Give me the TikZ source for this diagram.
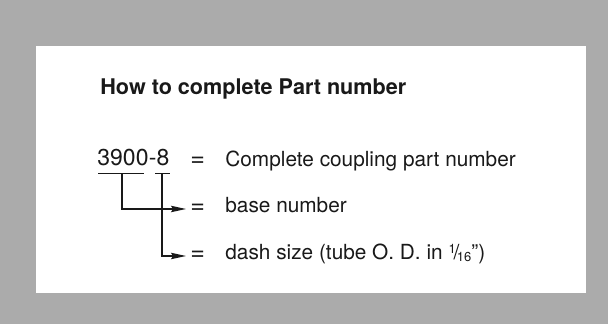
\documentclass[tikz,border=0pt]{standalone}
\usepackage{fontspec}
\setmainfont{TeX Gyre Heros}
\usetikzlibrary{arrows.meta, positioning}
\definecolor{PlateGray}{RGB}{171,171,171}
\definecolor{InkBlack}{RGB}{25,25,25}
\newcommand{\sixteenth}{\raisebox{0.6ex}{\fontsize{6.5}{7}\selectfont 1}\kern-0.1em/\kern-0.12em\raisebox{-0.15ex}{\fontsize{6.5}{7}\selectfont 16}}

\begin{document}
\begin{tikzpicture}[
  x=0.5pt, y=-0.5pt,
  title/.style={anchor=base west, inner sep=0pt, text=InkBlack, font=\fontsize{10.8}{13}\selectfont\bfseries},
  digits/.style={anchor=base west, inner sep=0pt, text=InkBlack, font=\fontsize{11.5}{14}\selectfont},
  desc/.style={anchor=base west, inner sep=0pt, text=InkBlack, font=\fontsize{10.4}{12}\selectfont},
  eqsign/.style={anchor=west, inner sep=0pt, text=InkBlack, font=\fontsize{12.5}{14}\selectfont},
  uline/.style={draw=InkBlack, line width=0.65pt},
  arrow/.style={-{Stealth[length=7.5pt, width=3.2pt, inset=1pt]}, line width=0.7pt, draw=InkBlack}
]
  \fill[PlateGray] (0,0) rectangle (608,324);
  \fill[white] (36,46) rectangle (586,293);

  \node[title] (heading) at (100,95) {How to complete Part number};

  \node[digits] (base) at (97,166) {3900};
  \node[digits] (hyphen) at ([xshift=-0.3pt]base.base east) {-};
  \node[digits] (dash) at ([xshift=-0.3pt]hyphen.base east) {8};

  \coordinate (basefoot) at ([xshift=-0.5pt, yshift=-3.3pt]base.south);
  \coordinate (dashfoot) at ([xshift=-0.5pt, yshift=-3.3pt]dash.south);
  \draw[uline] ([xshift=0.5pt, yshift=-3.3pt]base.south west) -- ([xshift=-2.5pt, yshift=-3.3pt]base.south east);
  \draw[uline] ([xshift=-0.5pt, yshift=-3.3pt]dash.south west) -- ([xshift=0.3pt, yshift=-3.3pt]dash.south east);

  \node[eqsign] (eqfull) at (190,161.5) {=};
  \node[eqsign] (eqbase) at (190,209) {=};
  \node[eqsign] (eqdash) at (190,256) {=};

  \node[desc] (fullpart) at (225,167) {Complete coupling part number};
  \node[desc] (basepart) at (225,213) {base number};
  \node[desc] (dashpart) at (225,260) {dash size (tube O.\ D. in \sixteenth'')};

  \draw[arrow] (basefoot) |- ([xshift=-2pt]eqbase.west);
  \draw[arrow] (dashfoot) |- ([xshift=-2pt]eqdash.west);
\end{tikzpicture}
\end{document}
